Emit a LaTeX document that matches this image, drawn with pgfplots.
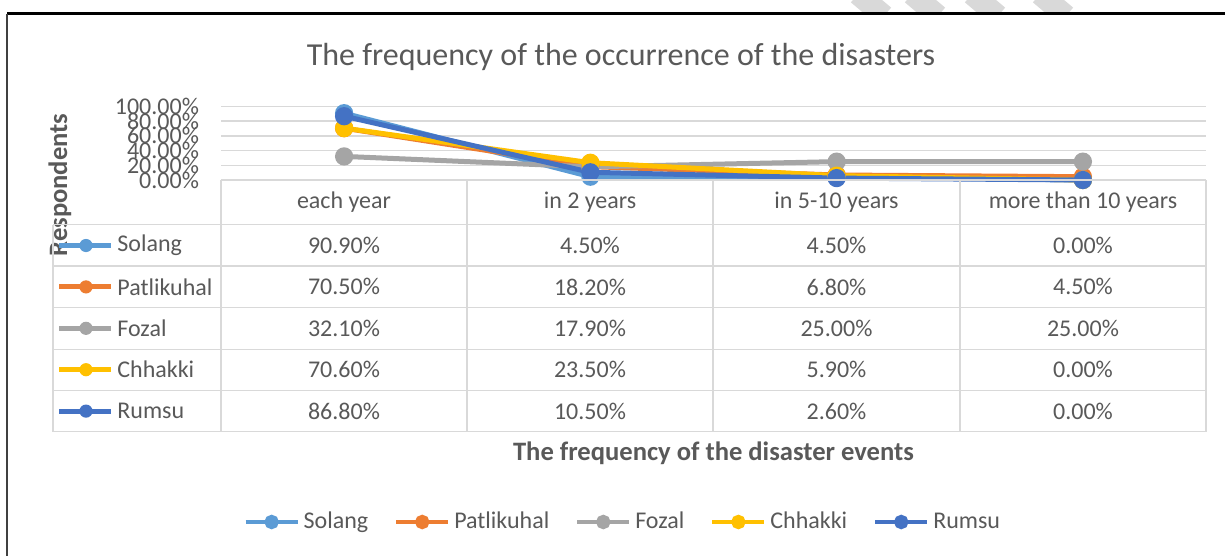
\documentclass[border=0pt]{standalone}
\usepackage{fontspec}
\setmainfont{Carlito}
\usepackage{pgfplots}
\pgfplotsset{compat=1.18}

\definecolor{cSol}{HTML}{5B9BD5}
\definecolor{cPat}{HTML}{ED7D31}
\definecolor{cFoz}{HTML}{A5A5A5}
\definecolor{cChh}{HTML}{FFC000}
\definecolor{cRum}{HTML}{4472C4}
\definecolor{txt}{HTML}{595959}
\definecolor{gridc}{HTML}{D9D9D9}

\begin{document}
\begin{tikzpicture}
% plot area: x 221..1206 px, y 106.5..180 px (1 px = 0.5pt)
\begin{axis}[
  at={(110.5pt,-90pt)}, anchor=south west,
  scale only axis, width=492.5pt, height=36.75pt,
  xmin=-0.5, xmax=3.5, ymin=0, ymax=100,
  axis line style={draw=none},
  xtick=\empty,
  ytick={0,20,40,60,80,100},
  yticklabels={0.00\%,20.00\%,40.00\%,60.00\%,80.00\%,100.00\%},
  yticklabel style={font=\fontsize{12}{12}\selectfont, text=txt, anchor=east, xshift=-7.5pt},
  major tick length=0pt,
  ymajorgrids, grid style={gridc, line width=0.75pt},
  clip=false,
  every axis plot/.append style={line width=2.5pt, mark=*, mark size=3.3pt, mark options={solid}},
  legend columns=5,
  legend style={at={(0.409,-4.653)}, anchor=center, draw=none,
    font=\fontsize{12}{14}\selectfont, text=txt,
    /tikz/every even column/.append style={column sep=11pt}},
  legend image code/.code={\draw[mark repeat=2,mark phase=2,#1,line width=2pt,mark size=2.6pt]
    plot coordinates {(0pt,0pt) (13pt,0pt) (26pt,0pt)};},
]
\addplot[color=cSol] coordinates {(0,90.9) (1,4.5) (2,4.5) (3,0)};
\addlegendentry{Solang}
\addplot[color=cPat] coordinates {(0,70.5) (1,18.2) (2,6.8) (3,4.5)};
\addlegendentry{Patlikuhal}
\addplot[color=cFoz] coordinates {(0,32.1) (1,17.9) (2,25.0) (3,25.0)};
\addlegendentry{Fozal}
\addplot[color=cChh] coordinates {(0,70.6) (1,23.5) (2,5.9) (3,0)};
\addlegendentry{Chhakki}
\addplot[color=cRum] coordinates {(0,86.8) (1,10.5) (2,2.6) (3,0)};
\addlegendentry{Rumsu}
\end{axis}

\begin{scope}[x=0.5pt,y=-0.5pt]
% page frame
\begin{scope}
\clip (0,0) rectangle (1225,13);
\foreach \sx in {858,912,972,1040}
  \draw[black!15, line width=11pt] (\sx,-6) -- (\sx+26,16);
\end{scope}
\draw[black, line width=1.5pt] (7,14) -- (1225,14);
\draw[black!75, line width=1.1pt] (7,14) -- (7,556);

% titles
\node[text=txt, font=\fontsize{16}{16}\selectfont] at (621,57) {The frequency of the occurrence of the disasters};
\node[text=txt, font=\bfseries\fontsize{13.3}{14}\selectfont] at (713.5,453) {The frequency of the disaster events};
\node[text=txt, font=\bfseries\fontsize{13.3}{14}\selectfont, rotate=90] at (60,185) {Respondents};

% data table grid
\begin{scope}[gridc, line width=0.75pt]
\draw (221,180) -- (1206,180);
\foreach \yy in {224.7,266,307.3,349.3,390.7,431.7}
  \draw (53,\yy) -- (1206,\yy);
\draw (53,224.7) -- (53,431.7);
\foreach \xx in {221,467,713,960,1206}
  \draw (\xx,180) -- (\xx,431.7);
\end{scope}

% header row
\begin{scope}[every node/.style={text=txt, font=\fontsize{12}{12}\selectfont}]
\node at (344,202.5) {each year};
\node at (590,202.5) {in 2 years};
\node at (836.5,202.5) {in 5-10 years};
\node at (1083,202.5) {more than 10 years};

% rows: keys, names and values
\foreach \c/\n/\a/\b/\d/\e [count=\i from 0] in {
  cSol/Solang/90.90/4.50/4.50/0.00,
  cPat/Patlikuhal/70.50/18.20/6.80/4.50,
  cFoz/Fozal/32.10/17.90/25.00/25.00,
  cChh/Chhakki/70.60/23.50/5.90/0.00,
  cRum/Rumsu/86.80/10.50/2.60/0.00}{
  \pgfmathsetmacro{\yy}{245.5+41.4*\i}
  \draw[\c, line width=2.5pt] (59,\yy) -- (111,\yy);
  \fill[\c] (86,\yy) circle (3.3pt);
  \node[anchor=west, inner sep=0pt] at (117,\yy) {\n};
  \node at (344,\yy) {\a\%};
  \node at (590,\yy) {\b\%};
  \node at (836.5,\yy) {\d\%};
  \node at (1083,\yy) {\e\%};
}
\end{scope}

\pgfresetboundingbox
\path (0,0) rectangle (1225,556);
\end{scope}
\end{tikzpicture}
\end{document}
